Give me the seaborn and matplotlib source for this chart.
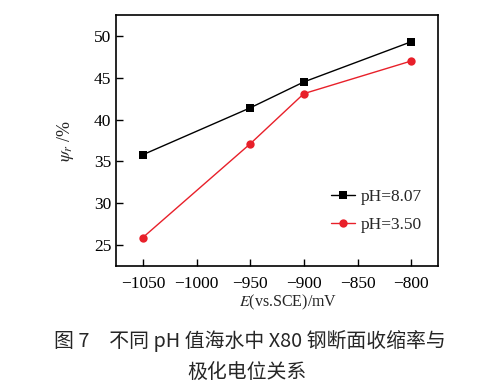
import matplotlib
matplotlib.use("Agg")
import matplotlib.pyplot as plt
import seaborn as sns
import pandas as pd

potential = [-1050, -950, -900, -800]
psi_ph807 = [35.8, 41.4, 44.5, 49.3]
psi_ph350 = [25.9, 37.1, 43.1, 47.0]
series_labels = ["pH=8.07", "pH=3.50"]
xticks = [-1050, -1000, -950, -900, -850, -800]
yticks = [25, 30, 35, 40, 45, 50]

df = pd.DataFrame({
    "E": potential * 2,
    "psi": psi_ph807 + psi_ph350,
    "series": [series_labels[0]] * 4 + [series_labels[1]] * 4,
})

sns.set_theme(style="ticks")
plt.rcParams["font.family"] = ["Liberation Serif", "Noto Sans CJK SC", "DejaVu Sans"]
plt.rcParams["mathtext.fontset"] = "stix"

fig = plt.figure(figsize=(4.91, 3.90), dpi=100)
ax = fig.add_axes([116 / 491, 1 - 266 / 390, (438 - 116) / 491, (266 - 15) / 390])

sns.lineplot(data=df, x="E", y="psi", hue="series", style="series",
             palette={series_labels[0]: "black", series_labels[1]: "#e8202a"},
             markers={series_labels[0]: "s", series_labels[1]: "o"},
             dashes=False, markersize=6, linewidth=1.0, markeredgewidth=0,
             ax=ax)

ax.set_xlim(-1075, -775)
ax.set_ylim(22.5, 52.5)
ax.set_xticks(xticks)
ax.set_yticks(yticks)
ax.set_xticklabels(["\u22121050", "\u22121000", "\u2212950", "\u2212900", "\u2212850", "\u2212800"])
ax.tick_params(direction="in", length=5, width=1, labelsize=12.5, colors="black")
ax.tick_params(axis="x", pad=7)
for s in ax.spines.values():
    s.set_linewidth(1.2)
    s.set_color("black")

ax.set_xlabel(r"$E$(vs.SCE)/mV", fontsize=11.5)
ax.xaxis.set_label_coords((288 - 116) / (438 - 116), -(293 - 266) / (266 - 15), transform=ax.transAxes)
ax.set_ylabel(r"$\psi_r$ /%", fontsize=13)
ax.yaxis.set_label_coords(-(116 - 76) / (438 - 116), 0.5)

leg = ax.legend(loc="lower right", bbox_to_anchor=(1.0, 0.07), frameon=False,
                fontsize=12.5, handlelength=1.4, handletextpad=0.35, labelspacing=0.65)

fig.text(250 / 491, 1 - 341 / 390, "图 7　不同 pH 值海水中 X80 钢断面收缩率与",
         ha="center", va="center", fontsize=14.3,
         family=["Noto Sans CJK SC", "DejaVu Sans"])
fig.text(247 / 491, 1 - 372 / 390, "极化电位关系",
         ha="center", va="center", fontsize=14.3,
         family=["Noto Sans CJK SC", "DejaVu Sans"])

fig.savefig("out.png", dpi=100)
